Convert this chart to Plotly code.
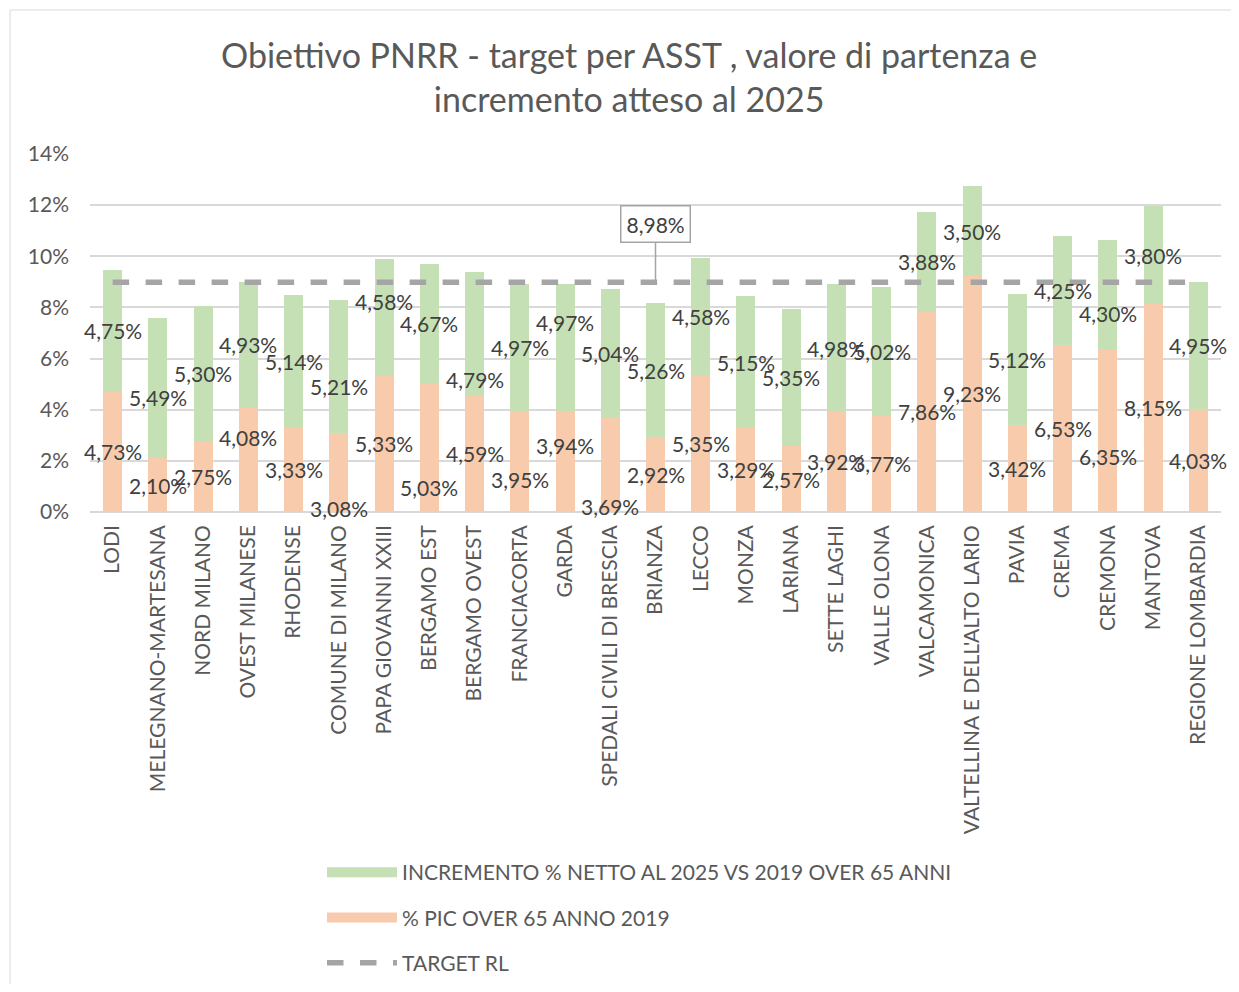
import plotly.graph_objects as go

categories = ["LODI", "MELEGNANO-MARTESANA", "NORD MILANO", "OVEST MILANESE", "RHODENSE",
              "COMUNE DI MILANO", "PAPA GIOVANNI XXIII", "BERGAMO EST", "BERGAMO OVEST",
              "FRANCIACORTA", "GARDA", "SPEDALI CIVILI DI BRESCIA", "BRIANZA", "LECCO", "MONZA",
              "LARIANA", "SETTE LAGHI", "VALLE OLONA", "VALCAMONICA", "VALTELLINA E DELL'ALTO LARIO",
              "PAVIA", "CREMA", "CREMONA", "MANTOVA", "REGIONE LOMBARDIA"]
pic_2019 = [4.73, 2.10, 2.75, 4.08, 3.33, 3.08, 5.33, 5.03, 4.59, 3.95, 3.94, 3.69, 2.92, 5.35,
            3.29, 2.57, 3.92, 3.77, 7.86, 9.23, 3.42, 6.53, 6.35, 8.15, 4.03]
incremento = [4.75, 5.49, 5.30, 4.93, 5.14, 5.21, 4.58, 4.67, 4.79, 4.97, 4.97, 5.04, 5.26, 4.58,
              5.15, 5.35, 4.98, 5.02, 3.88, 3.50, 5.12, 4.25, 4.30, 3.80, 4.95]
target_rl = [8.98] * len(categories)
callout_category = "BRIANZA"
title_text = "Obiettivo PNRR - target per ASST , valore di partenza e<br>incremento atteso al 2025"

# label nudges in pixels (style only: labels moved as in the original chart)
nudge_pic = {"OVEST MILANESE": 22, "COMUNE DI MILANO": -36, "BERGAMO EST": -40,
             "FRANCIACORTA": -18, "GARDA": 16, "SPEDALI CIVILI DI BRESCIA": -42, "CREMONA": -26}
nudge_inc = {"PAPA GIOVANNI XXIII": 16, "BERGAMO OVEST": -46, "GARDA": 25, "CREMONA": -19,
             "MELEGNANO-MARTESANA": -9, "COMUNE DI MILANO": -20}

def fmt(v):
    return f"{v:.2f}".replace(".", ",") + "%"

FONT = "Lato"
GRAY = "#595959"
LBL = "#404040"
GREEN = "#C5E0B4"
ORANGE = "#F8CBAD"
LABEL_SIZE = 21
NAME_INC = "INCREMENTO % NETTO AL 2025 VS 2019 OVER 65 ANNI"
NAME_PIC = "% PIC OVER 65 ANNO 2019"

# page offset (body margin) compensation
OFF = 8
W, H = 1239 - 2 * OFF, 992 - 2 * OFF
L = 90 - OFF
T = 154 - OFF
R = W - (1221 - OFF)
B = H - (512 - OFF)
pw, ph = W - L - R, H - T - B

def px_to_paper_x(px):
    return (px - OFF - L) / pw

def px_to_paper_y(py):
    return 1 + (T - (py - OFF)) / ph

fig = go.Figure()
fig.add_trace(go.Bar(
    x=categories, y=pic_2019, name=NAME_PIC, showlegend=False,
    marker=dict(color=ORANGE, line=dict(width=0)), hoverinfo="skip"))
fig.add_trace(go.Bar(
    x=categories, y=incremento, name=NAME_INC, showlegend=False,
    marker=dict(color=GREEN, line=dict(width=0)), hoverinfo="skip"))
fig.add_trace(go.Scatter(
    x=categories, y=target_rl, name="TARGET RL", mode="lines",
    line=dict(color="#A5A5A5", width=5.5, dash="dash"),
    legendrank=3, legendgroup="c", hoverinfo="skip"))
# legend swatches (wide bands, as in the original legend)
fig.add_trace(go.Scatter(x=[None], y=[None], mode="lines", name=NAME_INC,
                         line=dict(color=GREEN, width=10), legendrank=1, legendgroup="a"))
fig.add_trace(go.Scatter(x=[None], y=[None], mode="lines", name=NAME_PIC,
                         line=dict(color=ORANGE, width=10), legendrank=2, legendgroup="b"))

# data labels, centred on each segment
for c, p, inc in zip(categories, pic_2019, incremento):
    fig.add_annotation(x=c, y=p / 2, text=fmt(p), showarrow=False,
                       yshift=nudge_pic.get(c, 0),
                       font=dict(family=FONT, size=LABEL_SIZE, color=LBL))
    fig.add_annotation(x=c, y=p + inc / 2, text=fmt(inc), showarrow=False,
                       yshift=nudge_inc.get(c, 0),
                       font=dict(family=FONT, size=LABEL_SIZE, color=LBL))

ci = categories.index(callout_category)
fig.add_annotation(
    x=callout_category, y=target_rl[ci], text=fmt(target_rl[ci]),
    showarrow=True, arrowhead=0, arrowwidth=1.5, arrowcolor="#A5A5A5",
    ax=0, ay=-58, bordercolor="#A5A5A5", borderwidth=1.5, borderpad=5,
    bgcolor="white", font=dict(family=FONT, size=LABEL_SIZE, color=LBL))

# title as annotation
fig.add_annotation(
    text=title_text, xref="paper", yref="paper",
    x=px_to_paper_x(629), y=px_to_paper_y(76), xanchor="center", yanchor="middle",
    showarrow=False, font=dict(family=FONT, size=34, color=GRAY))

# chart border
fig.add_shape(type="rect", xref="paper", yref="paper",
              x0=px_to_paper_x(10), x1=px_to_paper_x(1260),
              y0=px_to_paper_y(1010), y1=px_to_paper_y(10),
              line=dict(color="#D9D9D9", width=1), fillcolor="rgba(0,0,0,0)", layer="below")

fig.update_layout(
    width=W, height=H,
    margin=dict(l=L, r=R, t=T, b=B, autoexpand=False),
    barmode="stack", bargap=0.58,
    plot_bgcolor="white", paper_bgcolor="white",
    font=dict(family=FONT, color=GRAY),
    xaxis=dict(tickangle=-90, tickfont=dict(family=FONT, size=21, color=GRAY),
               range=[-0.5, len(categories) - 0.5], autorange=False,
               showgrid=False, showline=False, ticks="", ticklabelstandoff=8, automargin=False),
    yaxis=dict(range=[0, 14], dtick=2, ticksuffix="%", tickfont=dict(family=FONT, size=21, color=GRAY),
               showgrid=True, gridcolor="#D9D9D9", gridwidth=2, zeroline=True,
               zerolinecolor="#D9D9D9", zerolinewidth=2, ticklabelstandoff=20, automargin=False),
    showlegend=True,
    legend=dict(orientation="v", x=px_to_paper_x(322), xanchor="left", y=px_to_paper_y(852),
                yanchor="top", font=dict(family=FONT, size=21, color=GRAY), traceorder="grouped",
                tracegroupgap=15, itemwidth=70, bgcolor="rgba(0,0,0,0)"),
)

fig.write_html("out.html")
